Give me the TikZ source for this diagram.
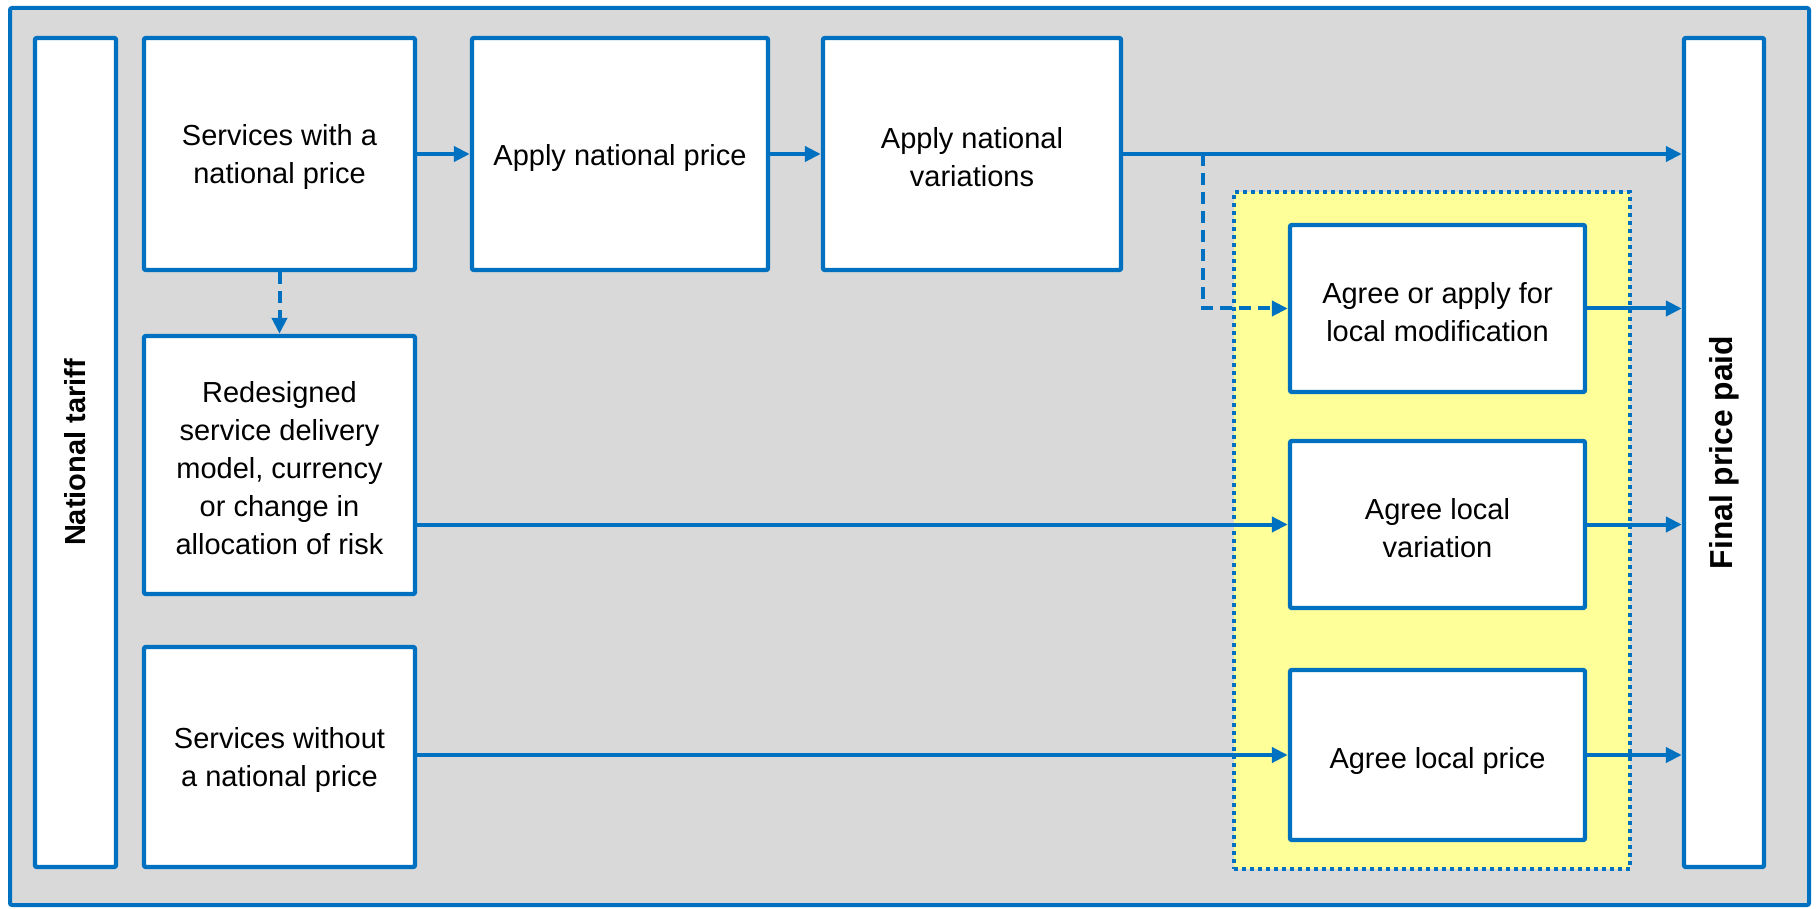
\documentclass[tikz,border=0pt]{standalone}
\usepackage{fontspec}
\setmainfont{Liberation Sans}
\usetikzlibrary{arrows.meta}
\definecolor{nblue}{HTML}{0070C0}
\definecolor{panel}{HTML}{D9D9D9}
\definecolor{zone}{HTML}{FFFF99}
% strut that sets a text block slightly below the box centre
\newcommand{\lowstrut}[1]{\rule{0pt}{#1}}

\begin{document}
\begin{tikzpicture}[x=0.5pt,y=-0.5pt,
  txt/.style={font=\fontsize{14.5pt}{19pt}\selectfont},
  box/.style={draw=nblue, line width=2.2pt, fill=white, rounded corners=1pt,
              align=center, inner sep=0pt, txt},
  flow/.style={draw=nblue, line width=2pt, -{Triangle[length=8pt,width=7.5pt]}},
  dashflow/.style={flow, dash pattern=on 6pt off 3.5pt},
]
\useasboundingbox (0,0) rectangle (1817,909);

% outer grey panel
\node[draw=nblue, fill=panel, line width=2pt, rounded corners=1pt,
      minimum width=899.5pt, minimum height=448.5pt, inner sep=0pt]
      (frame) at (909.5,456.5) {};

% yellow local-pricing zone
\node[draw=nblue, fill=zone, line width=2pt, dash pattern=on 2pt off 2pt,
      minimum width=198pt, minimum height=338.5pt, inner sep=0pt]
      (zone) at (1432,530.5) {};

% side bars
\node[box, minimum width=40.5pt, minimum height=414.5pt] (tariff) at (75.5,452.5)
      {\rotatebox{90}{\bfseries National tariff}};
\node[box, minimum width=40pt, minimum height=414.5pt] (final) at (1724,452.5)
      {\rotatebox{90}{\fontsize{15.9pt}{18pt}\selectfont\bfseries Final price paid}};

% national route
\node[box, minimum width=135.5pt, minimum height=116pt] (natsvc) at (279.5,154)
      {\lowstrut{14pt}Services with a\\national price};
\node[box, minimum width=148pt, minimum height=116pt] (natprice) at (620,154)
      {\lowstrut{15pt}Apply national price};
\node[box, minimum width=149pt, minimum height=116pt] (natvar) at (972,154)
      {\lowstrut{14pt}Apply national\\variations};

% other service routes
\node[box, minimum width=135.5pt, minimum height=129pt] (redesign) at (279.5,465)
      {\lowstrut{14pt}Redesigned\\service delivery\\model, currency\\or change in\\allocation of risk};
\node[box, minimum width=135.5pt, minimum height=110pt] (nonat) at (279.5,757)
      {\lowstrut{14pt}Services without\\a national price};

% local agreements
\node[box, minimum width=147.5pt, minimum height=83.5pt] (localmod) at (1437.5,308.5)
      {\lowstrut{14pt}Agree or apply for\\local modification};
\node[box, minimum width=147.5pt, minimum height=83.5pt] (localvar) at (1437.5,524.5)
      {\lowstrut{14pt}Agree local\\variation};
\node[box, minimum width=147.5pt, minimum height=85pt] (localprice) at (1437.5,755)
      {\lowstrut{16.5pt}Agree local price};

% connectors
\coordinate (split) at (1203,154);
\draw[flow] (natsvc) -- (natprice);
\draw[flow] (natprice) -- (natvar);
\draw[flow] (natvar.east) -- (final.west |- natvar.east);
\draw[dashflow] (split) |- (localmod.west);
\draw[dashflow] (natsvc) -- (redesign);
\draw[flow] (redesign.east |- localvar.west) -- (localvar.west);
\draw[flow] (nonat.east |- localprice.west) -- (localprice.west);
\draw[flow] (localmod.east) -- (final.west |- localmod.east);
\draw[flow] (localvar.east) -- (final.west |- localvar.east);
\draw[flow] (localprice.east) -- (final.west |- localprice.east);
\end{tikzpicture}
\end{document}
